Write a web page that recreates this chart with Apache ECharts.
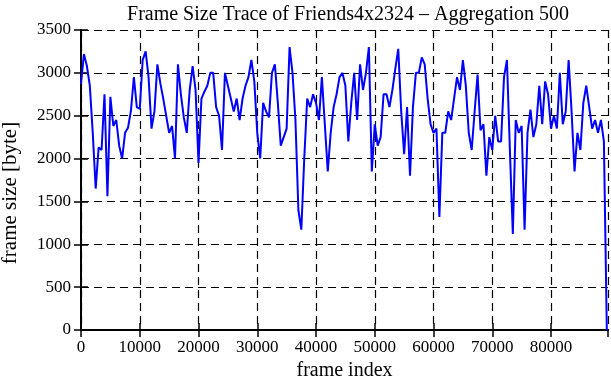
<!DOCTYPE html>
<html>
<head>
<meta charset="utf-8">
<script src="https://cdn.jsdelivr.net/npm/echarts@6/dist/echarts.min.js"></script>
<style>
  html, body { margin: 0; padding: 0; background: #fff; }
  #chart { width: 611px; height: 380px; }
</style>
</head>
<body>
<div id="chart"></div>
<script>
// frame size per 500-frame bucket, split in runs of 20 buckets (10000 frames)
const STEP = 500;
const run0 = [2870, 3220, 3080, 2850, 2300, 1650, 2130, 2100, 2750, 1560, 2720, 2380, 2450, 2150, 2000, 2300, 2360, 2560, 2950, 2600];
const run1 = [2580, 3150, 3250, 2950, 2350, 2550, 3100, 2880, 2700, 2500, 2300, 2380, 2000, 3100, 2750, 2480, 2300, 2800, 3080, 2800];
const run2 = [1950, 2700, 2780, 2850, 3000, 3000, 2600, 2500, 2100, 3000, 2850, 2700, 2550, 2700, 2450, 2700, 2850, 2950, 3150, 2900];
const run3 = [2300, 2000, 2650, 2550, 2480, 3000, 3100, 2650, 2150, 2250, 2350, 3300, 3000, 2450, 1400, 1170, 2000, 2700, 2600, 2750];
const run4 = [2650, 2450, 2950, 2400, 1850, 2300, 2600, 2750, 2950, 3000, 2850, 2200, 2650, 3000, 2450, 3100, 2800, 3000, 3300, 1850];
const run5 = [2400, 2150, 2250, 2750, 2750, 2600, 2800, 3050, 3280, 2550, 2050, 2600, 1800, 2600, 3000, 3000, 3180, 3100, 2700, 2400];
const run6 = [2300, 2350, 1320, 2300, 2300, 2550, 2450, 2700, 2950, 2800, 3150, 2850, 2300, 2100, 2550, 2980, 2330, 2400, 1800, 2250];
const run7 = [2100, 2500, 2200, 2200, 2950, 3150, 2100, 1120, 2450, 2300, 2380, 1170, 2300, 2570, 2250, 2400, 2850, 2400, 2900, 2750];
const run8 = [2350, 2500, 2350, 3000, 2400, 2550, 3150, 2550, 1850, 2300, 2100, 2650, 2850, 2600, 2350, 2450, 2300, 2450, 2200, 0];

const frameSizes = [].concat(run0, run1, run2, run3, run4, run5, run6, run7, run8);
const points = frameSizes.map((v, i) => [i * STEP, v]);

const chart = echarts.init(document.getElementById("chart"), null, { renderer: "canvas" });
const FONT = "Liberation Serif";
const plain = (v) => String(v);
const frameLine = { show: true, lineStyle: { color: "#000", width: 2 } };
const dashGrid = { show: true, lineStyle: { color: "#000", width: 1.2, type: [8, 5] } };
const inTick = { show: true, inside: true, length: 7, lineStyle: { color: "#000", width: 1.5 } };

chart.setOption({
  animation: false,
  backgroundColor: "#fff",
  title: {
    text: "Frame Size Trace of Friends4x2324 – Aggregation 500",
    left: 343,
    textAlign: "center",
    top: 0,
    textStyle: { fontFamily: FONT, fontSize: 20, fontWeight: "normal", color: "#000" }
  },
  grid: { left: 81, right: 3, top: 30, bottom: 50, outerBoundsMode: "none", containLabel: false },
  xAxis: [
    {
      type: "value", min: 0, max: 89700, interval: 10000,
      name: "frame index", nameLocation: "middle", nameGap: 31,
      nameTextStyle: { fontFamily: FONT, fontSize: 20, color: "#000" },
      axisLine: frameLine, axisTick: inTick, splitLine: dashGrid,
      axisLabel: { fontFamily: FONT, fontSize: 17, color: "#000", margin: 9, showMaxLabel: false, formatter: plain }
    },
    {
      type: "value", position: "top", min: 0, max: 89700, interval: 10000,
      axisLine: frameLine, axisTick: inTick, splitLine: { show: false },
      axisLabel: { show: false }
    }
  ],
  yAxis: [
    {
      type: "value", min: 0, max: 3500, interval: 500,
      name: "frame size [byte]", nameLocation: "middle", nameGap: 60, nameRotate: 90,
      nameTextStyle: { fontFamily: FONT, fontSize: 21, color: "#000", padding: [0, 26, 0, 0] },
      axisLine: frameLine, axisTick: inTick, splitLine: dashGrid,
      axisLabel: { fontFamily: FONT, fontSize: 17, color: "#000", margin: 10, formatter: plain }
    },
    {
      type: "value", position: "right", min: 0, max: 3500, interval: 500,
      axisLine: frameLine, axisTick: inTick, splitLine: { show: false },
      axisLabel: { show: false }
    }
  ],
  series: [
    {
      type: "line",
      data: points,
      showSymbol: false,
      lineStyle: { color: "#0000ff", width: 2 },
      z: 3
    }
  ]
});
</script>
</body>
</html>
